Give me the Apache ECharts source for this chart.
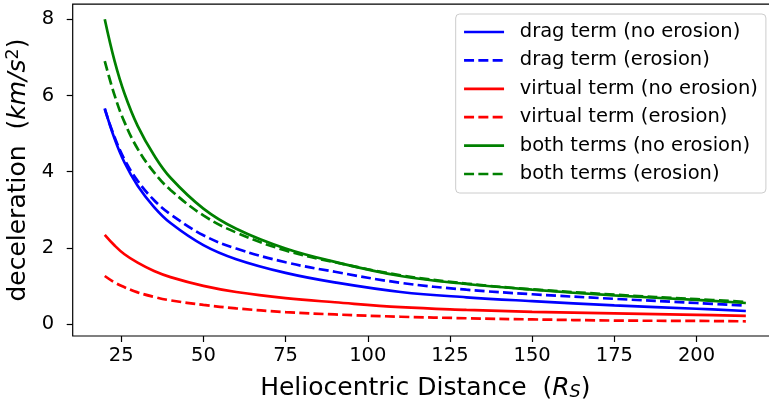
<!DOCTYPE html>
<html>
<head>
<meta charset="utf-8">
<script src="https://cdn.jsdelivr.net/npm/echarts@6/dist/echarts.min.js"></script>
<style>
  html, body { margin: 0; padding: 0; background: #fff; overflow: hidden; }
  /* the plot frame runs past the right edge of the window, so the canvas is a bit wider */
  #chart { width: 790px; height: 401px; }
</style>
</head>
<body>
<div id="chart"></div>
<script>
// Heliocentric distance samples (solar radii)
const distance = [20, 23, 26, 30, 35, 40, 50, 60, 75, 90, 110, 130, 150, 175, 200, 215];

// Deceleration (km/s^2) for each term
const dragNoErosion    = [5.66, 4.86, 4.24, 3.63, 3.07, 2.65, 2.07, 1.70, 1.34, 1.09, 0.84, 0.70, 0.60, 0.49, 0.40, 0.34];
const dragErosion      = [5.64, 4.90, 4.32, 3.76, 3.25, 2.88, 2.33, 1.98, 1.62, 1.37, 1.08, 0.90, 0.78, 0.66, 0.55, 0.48];
const virtualNoErosion = [2.34, 2.06, 1.83, 1.61, 1.39, 1.23, 1.00, 0.84, 0.68, 0.57, 0.44, 0.37, 0.32, 0.28, 0.24, 0.21];
const virtualErosion   = [1.26, 1.09, 0.965, 0.83, 0.71, 0.62, 0.50, 0.41, 0.31, 0.25, 0.19, 0.15, 0.12, 0.09, 0.08, 0.07];
const bothNoErosion    = [8.00, 6.90, 6.05, 5.20, 4.43, 3.84, 3.03, 2.50, 1.98, 1.63, 1.26, 1.05, 0.90, 0.75, 0.63, 0.55];
const bothErosion      = [6.90, 6.00, 5.30, 4.60, 3.98, 3.52, 2.85, 2.40, 1.93, 1.62, 1.28, 1.06, 0.91, 0.77, 0.65, 0.58];

// Tick labels
const xTicks = [25, 50, 75, 100, 125, 150, 175, 200];
const yTicks = [0, 2, 4, 6, 8];

const FONT = 'DejaVu Sans';

function pairs(ys) {
  return distance.map((x, i) => [x, ys[i]]);
}

function lineSeries(name, ys, color, dashed) {
  return {
    name: name,
    type: 'line',
    data: pairs(ys),
    smooth: 0.4,
    symbol: 'none',
    showSymbol: false,
    clip: true,
    lineStyle: {
      color: color,
      width: 2.7,
      type: dashed ? [10, 4.3] : 'solid'
    },
    itemStyle: { color: color },
    emphasis: { disabled: true }
  };
}

const chart = echarts.init(document.getElementById('chart'), null, { renderer: 'canvas' });

chart.setOption({
  animation: false,
  backgroundColor: '#ffffff',
  grid: {
    left: 72.7,
    top: 4.2,
    width: 705.2,
    height: 331.8,
    outerBoundsMode: 'none',
    containLabel: false,
    show: true,
    borderColor: '#000000',
    borderWidth: 1.2,
    backgroundColor: 'transparent'
  },
  legend: {
    orient: 'vertical',
    left: 455.7,
    top: 14,
    padding: [8, 8, 9, 7],
    itemWidth: 40,
    itemHeight: 14,
    itemGap: 8.4,
    backgroundColor: 'rgba(255,255,255,0.8)',
    borderColor: '#cccccc',
    borderWidth: 1,
    borderRadius: 4,
    itemStyle: { opacity: 0 },
    lineStyle: { width: 2.7 },
    textStyle: {
      fontFamily: FONT,
      fontSize: 19.5,
      color: '#000000',
      lineHeight: 20,
      padding: [0, 0, 0, 10.7]
    },
    data: [
      'drag term (no erosion)',
      'drag term (erosion)',
      'virtual term (no erosion)',
      'virtual term (erosion)',
      'both terms (no erosion)',
      'both terms (erosion)'
    ]
  },
  xAxis: {
    type: 'value',
    min: 10.25,
    max: 224.75,
    splitLine: { show: false },
    axisLine: { show: false, onZero: false },
    axisTick: {
      show: true,
      length: 6,
      customValues: xTicks,
      lineStyle: { color: '#000000', width: 1.2 }
    },
    axisLabel: {
      customValues: xTicks,
      margin: 10,
      fontFamily: FONT,
      fontSize: 19.5,
      color: '#000000'
    },
    name: 'Heliocentric Distance  ({it|R}{sub|S})',
    nameLocation: 'middle',
    nameGap: 39,
    nameTextStyle: {
      fontFamily: FONT,
      fontSize: 25,
      color: '#000000',
      rich: {
        it: { fontFamily: FONT, fontSize: 25, fontStyle: 'italic', color: '#000000' },
        sub: { fontFamily: FONT, fontSize: 17.5, fontStyle: 'italic', color: '#000000', padding: [8, 0, 0, 0] }
      }
    }
  },
  yAxis: {
    type: 'value',
    min: -0.316,
    max: 8.396,
    splitLine: { show: false },
    axisLine: { show: false, onZero: false },
    axisTick: {
      show: true,
      length: 6,
      customValues: yTicks,
      lineStyle: { color: '#000000', width: 1.2 }
    },
    axisLabel: {
      customValues: yTicks,
      margin: 18.5,
      fontFamily: FONT,
      fontSize: 19.5,
      color: '#000000'
    },
    name: 'deceleration  ({it|km/s}{sup|2})',
    nameLocation: 'middle',
    nameGap: 34,
    nameTextStyle: {
      fontFamily: FONT,
      fontSize: 25,
      color: '#000000',
      rich: {
        it: { fontFamily: FONT, fontSize: 25, fontStyle: 'italic', color: '#000000' },
        sup: { fontFamily: FONT, fontSize: 17.5, color: '#000000', padding: [0, 0, 10, 0] }
      }
    }
  },
  series: [
    lineSeries('drag term (no erosion)', dragNoErosion, '#0000ff', false),
    lineSeries('drag term (erosion)', dragErosion, '#0000ff', true),
    lineSeries('virtual term (no erosion)', virtualNoErosion, '#ff0000', false),
    lineSeries('virtual term (erosion)', virtualErosion, '#ff0000', true),
    lineSeries('both terms (no erosion)', bothNoErosion, '#008000', false),
    lineSeries('both terms (erosion)', bothErosion, '#008000', true)
  ]
});
</script>
</body>
</html>
